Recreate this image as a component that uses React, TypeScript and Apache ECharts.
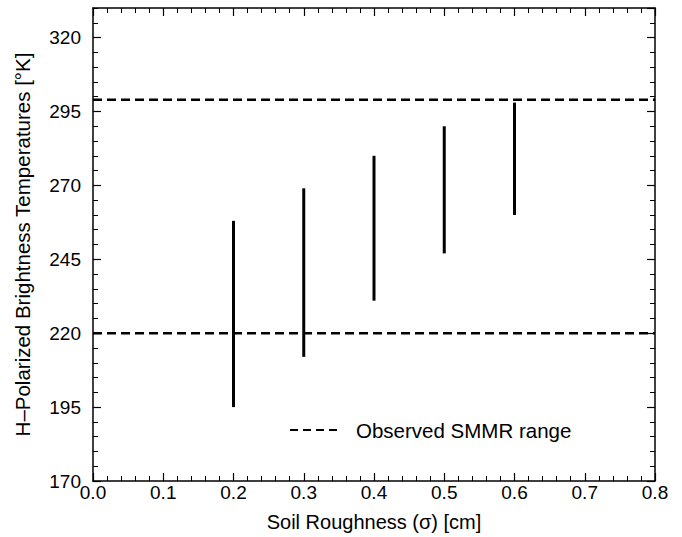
import React, { useEffect, useRef } from "react";
import * as echarts from "echarts";

const roughness = [0.2, 0.3, 0.4, 0.5, 0.6];
const tbMin = [195, 212, 231, 247, 260];
const tbMax = [258, 269, 280, 290, 298];
const smmrLow = 220;
const smmrHigh = 299;
const xRange = [0, 0.8];
const yRange = [170, 330];

const FONT = "Liberation Sans, Arial, Helvetica, sans-serif";

export default function App() {
  const ref = useRef<HTMLDivElement>(null);
  useEffect(() => {
    if (!ref.current) return;
    const chart = echarts.init(ref.current, null, { renderer: "svg" });
    const black = "#000";
    const baseY = (extra: any) => ({
      type: "value",
      min: yRange[0],
      max: yRange[1],
      splitLine: { show: false },
      axisLabel: { show: false },
      ...extra,
    });
    const baseX = (extra: any) => ({
      type: "value",
      min: xRange[0],
      max: xRange[1],
      interval: 0.1,
      splitLine: { show: false },
      ...extra,
    });
    const option: any = {
      animation: false,
      backgroundColor: "#fff",
      grid: { left: 93, right: 27, top: 8, bottom: 55, containLabel: false },
      xAxis: [
        baseX({
          position: "bottom",
          axisLine: { show: true, lineStyle: { color: black, width: 1.5 } },
          axisTick: { show: true, inside: true, length: 8, lineStyle: { color: black, width: 1.2 } },
          minorTick: { show: true, splitNumber: 5, length: 5, lineStyle: { color: black, width: 1 } },
          axisLabel: {
            show: true,
            margin: 2,
            color: black,
            fontSize: 19,
            fontFamily: FONT,
            formatter: (v: number) => v.toFixed(1),
          },
          name: "Soil Roughness (σ) [cm]",
          nameLocation: "middle",
          nameGap: 31,
          nameTextStyle: { color: black, fontSize: 20, fontFamily: FONT },
        }),
        baseX({
          position: "top",
          axisLine: { show: true, lineStyle: { color: black, width: 1.5 } },
          axisTick: { show: true, inside: true, length: 8, lineStyle: { color: black, width: 1.2 } },
          minorTick: { show: true, splitNumber: 5, length: 5, lineStyle: { color: black, width: 1 } },
          axisLabel: { show: false },
        }),
      ],
      yAxis: [
        baseY({
          position: "left",
          interval: 25,
          axisLine: { show: true, lineStyle: { color: black, width: 1.5 } },
          axisTick: { show: true, inside: true, length: 8, lineStyle: { color: black, width: 1.2 } },
          axisLabel: {
            show: true,
            margin: 12,
            color: black,
            fontSize: 19,
            fontFamily: FONT,
            showMaxLabel: false,
          },
          name: "H–Polarized Brightness Temperatures [°K]",
          nameLocation: "middle",
          nameGap: 60,
          nameTextStyle: { color: black, fontSize: 20.5, fontFamily: FONT },
        }),
        baseY({
          position: "left",
          interval: 5,
          axisLine: { show: false },
          axisTick: { show: true, inside: true, length: 5, lineStyle: { color: black, width: 1 } },
        }),
        baseY({
          position: "right",
          interval: 25,
          axisLine: { show: true, lineStyle: { color: black, width: 1.5 } },
          axisTick: { show: true, inside: true, length: 8, lineStyle: { color: black, width: 1.2 } },
        }),
        baseY({
          position: "right",
          interval: 5,
          axisLine: { show: false },
          axisTick: { show: true, inside: true, length: 5, lineStyle: { color: black, width: 1 } },
        }),
      ],
      series: [
        {
          type: "custom",
          xAxisIndex: 0,
          yAxisIndex: 0,
          data: roughness.map((x, i) => [x, tbMin[i], tbMax[i]]),
          encode: { x: 0, y: [1, 2] },
          renderItem: (params: any, api: any) => {
            const x = api.value(0);
            const lo = api.value(1);
            const hi = api.value(2);
            const p1 = api.coord([x, lo]);
            const p2 = api.coord([x, hi]);
            return {
              type: "line",
              shape: { x1: p1[0], y1: p1[1], x2: p2[0], y2: p2[1] },
              style: { stroke: black, lineWidth: 3 },
            };
          },
        },
        {
          type: "line",
          name: "Observed SMMR range",
          xAxisIndex: 0,
          yAxisIndex: 0,
          symbol: "none",
          data: [
            [xRange[0], smmrHigh],
            [xRange[1], smmrHigh],
          ],
          lineStyle: { color: black, width: 2.5, type: [9, 5] },
        },
        {
          type: "line",
          name: "Observed SMMR range low",
          xAxisIndex: 0,
          yAxisIndex: 0,
          symbol: "none",
          data: [
            [xRange[0], smmrLow],
            [xRange[1], smmrLow],
          ],
          lineStyle: { color: black, width: 2.5, type: [9, 5] },
        },
      ],
      graphic: [
        {
          type: "line",
          shape: { x1: 290, y1: 430, x2: 339, y2: 430 },
          style: { stroke: black, lineWidth: 2, lineDash: [8, 5] },
        },
        {
          type: "text",
          x: 356,
          y: 430,
          style: {
            text: "Observed SMMR range",
            fill: black,
            fontSize: 20.5,
            fontFamily: FONT,
            verticalAlign: "middle",
            align: "left",
          },
        },
      ],
    };
    chart.setOption(option);
    return () => chart.dispose();
  }, []);
  return (
    <div
      ref={ref}
      style={{ position: "fixed", left: 0, top: 0, width: 682, height: 537, background: "#fff" }}
    />
  );
}
